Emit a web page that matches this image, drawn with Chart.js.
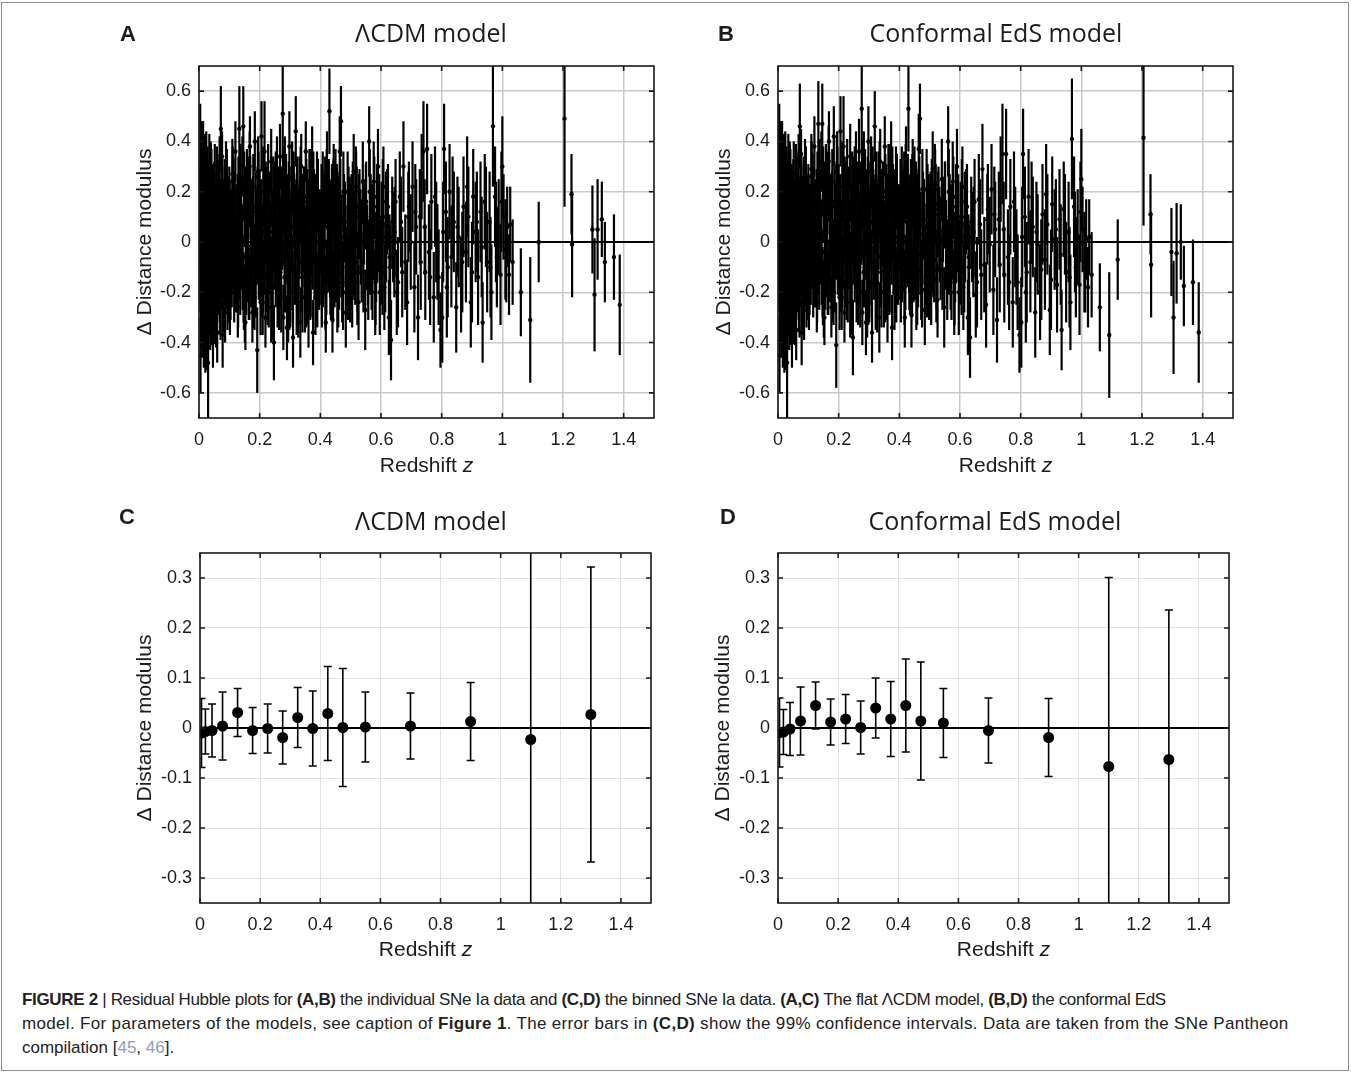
<!DOCTYPE html>
<html>
<head>
<meta charset="utf-8">
<script src="https://cdn.jsdelivr.net/npm/chart.js@4.4.1/dist/chart.umd.min.js"></script>
<style>
  body { margin: 0; background: #fff; width: 1351px; height: 1072px; position: relative; overflow: hidden; }
  #frame { position: absolute; left: 1px; top: 2px; width: 1346px; height: 1067px; border: 1px solid #8c8c8c; }
  canvas { position: absolute; }
  #caption { position: absolute; left: 22px; top: 988px; font-family: "Liberation Sans", Arial, sans-serif;
             font-size: 17px; line-height: 24px; color: #222; white-space: nowrap; }
  #caption .l1 { letter-spacing: -0.33px; }
  #caption .l2 { letter-spacing: 0.33px; }
  #caption .ref { color: #8d9fb8; }
</style>
</head>
<body>
<div id="frame"></div>
<canvas id="cA" width="680" height="500" style="left:0px;top:0px"></canvas>
<canvas id="cB" width="680" height="500" style="left:579px;top:0px"></canvas>
<canvas id="cC" width="680" height="500" style="left:0px;top:487px"></canvas>
<canvas id="cD" width="680" height="500" style="left:578px;top:487px"></canvas>
<div id="caption"><div class="l1"><b>FIGURE 2</b> | Residual Hubble plots for <b>(A,B)</b> the individual SNe Ia data and <b>(C,D)</b> the binned SNe Ia data. <b>(A,C)</b> The flat ΛCDM model, <b>(B,D)</b> the conformal EdS</div><div class="l2">model. For parameters of the models, see caption of <b>Figure 1</b>. The error bars in <b>(C,D)</b> show the 99% confidence intervals. Data are taken from the SNe Pantheon</div><div>compilation [<span class="ref">45</span>, <span class="ref">46</span>].</div></div>
<script>
// individual SNe Ia (panels A, B)
const snZ = [
  0.004,0.005,0.006,0.007,0.008,0.009,0.010,0.011,0.012,0.013,
  0.014,0.015,0.016,0.017,0.018,0.019,0.020,0.021,0.022,0.023,
  0.024,0.025,0.026,0.027,0.028,0.029,0.030,0.031,0.033,0.034,
  0.035,0.037,0.038,0.040,0.041,0.043,0.044,0.046,0.048,0.050,
  0.052,0.054,0.056,0.058,0.060,0.062,0.064,0.066,0.068,0.070,
  0.072,0.074,0.076,0.078,0.080,0.082,0.084,0.086,0.088,0.090,
  0.092,0.094,0.096,0.098,0.100,
  0.102,0.105,0.108,0.110,0.113,0.116,0.118,0.120,0.123,0.126,
  0.128,0.130,0.133,0.136,0.138,0.140,0.143,0.146,0.148,0.150,
  0.153,0.156,0.158,0.160,0.163,0.166,0.168,0.171,0.174,0.176,
  0.179,0.182,0.184,0.187,0.190,0.192,0.195,0.198,0.200,0.203,
  0.206,0.208,0.211,0.214,0.216,0.219,0.222,0.225,0.228,0.230,
  0.233,0.236,0.238,0.241,0.244,0.247,0.250,0.253,0.256,0.258,
  0.261,0.264,0.267,0.270,0.273,0.276,0.278,0.281,0.284,0.287,
  0.290,0.292,0.295,0.298,0.301,0.304,0.307,0.310,0.313,0.316,
  0.319,0.322,0.325,0.328,0.331,0.334,0.337,0.340,0.343,0.346,
  0.349,0.352,0.355,0.358,0.361,0.364,0.367,0.370,0.373,0.376,
  0.379,0.382,0.385,0.388,0.392,0.396,
  0.402,0.405,0.408,0.411,0.414,0.418,0.422,0.425,0.428,0.430,
  0.433,0.436,0.440,0.444,0.448,0.452,0.456,0.460,0.464,0.468,
  0.472,0.478,0.484,0.490,0.495,0.500,0.505,0.510,0.515,0.520,
  0.526,0.532,0.540,0.548,0.554,0.561,0.566,0.572,0.578,0.584,
  0.590,0.596,0.602,0.608,0.614,0.620,0.626,0.633,0.640,0.648,
  0.656,0.666,0.674,0.680,0.686,0.692,0.698,0.704,0.710,0.716,
  0.722,0.728,0.734,0.740,0.746,0.752,0.758,0.766,0.774,0.782,
  0.790,0.796,0.802,0.808,0.814,0.820,0.826,0.832,0.840,0.848,
  0.856,0.864,0.872,0.880,0.888,0.896,0.904,0.912,0.920,0.928,
  0.935,0.942,0.950,0.958,0.964,0.969,0.976,0.982,0.988,0.994,
  1.000,1.004,1.010,1.016,1.022,1.026,1.034,
  1.061,1.092,1.120,1.205,1.228,1.230,1.297,1.304,1.314,1.328,1.338,1.368,1.387,
  0.0035,0.0065,0.0095,0.0125,0.0155,0.0185,0.0215,0.0245,0.0275,0.0305,
  0.0325,0.0355,0.0385,0.0415,0.0445,0.0475,0.0505,0.0535,0.0565,0.0595,
  0.0625,0.0655,0.0685,0.0715,0.0745,0.0775,0.0805,0.0835,0.0865,0.0895,
  0.093,0.097,0.101,0.107,0.112,0.117,0.122,0.127,0.132,0.137,
  0.142,0.147,0.152,0.157,0.162,0.167,0.172,0.177,0.181,0.186,
  0.191,0.196,0.201,0.205,0.210,0.215,0.220,0.224,0.229,0.234,
  0.239,0.243,0.248,0.252,0.257,0.262,0.266,0.271,0.275,0.280,
  0.285,0.289,0.294,0.299,0.303,0.308,0.312,0.317,0.321,0.326,
  0.330,0.335,0.339,0.344,0.348,0.353,0.357,0.362,0.366,0.371,
  0.375,0.380,0.384,0.389,0.394,0.398,0.203,0.262,0.318,0.156,
  0.403,0.407,0.412,0.416,0.420,0.424,0.427,0.432,0.438,0.442,
  0.446,0.450,0.454,0.458,0.462,0.466,0.470,0.475,0.481,0.487,
  0.493,0.498,0.503,0.508,0.513,0.518,0.523,0.529,0.536,0.544,
  0.551,0.558,0.564,0.570,0.576,0.582,0.588,0.594,0.600,0.606,
  0.611,0.617,0.623,0.630,0.637,0.644,0.652,0.662,0.670,0.690,
  0.713,0.731,0.744,0.762,0.778,0.786,0.805,0.817,0.836,0.852,
  0.868,0.884,0.900,0.916,0.932,0.946,0.961,0.979,0.997,1.013,
  0.0045,0.0075,0.0105,0.0135,0.0165,0.0195,0.0225,0.0255,0.0285,0.032,
  0.036,0.039,0.042,0.045,0.049,0.053,0.057,0.061,0.065,0.069,
  0.073,0.077,0.081,0.085,0.089,0.095,0.099,0.104,0.109,0.114,
  0.119,0.124,0.129,0.134,0.139,0.144,0.149,0.154,0.159,0.164,
  0.169,0.173,0.178,0.183,0.188,0.193,0.197,0.202,0.207,0.212,
  0.217,0.221,0.226,0.231,0.235,0.240,0.245,0.249,0.254,0.259,
  0.263,0.268,0.272,0.277,0.282,0.286,0.291,0.296,0.300,0.305,
  0.309,0.314,0.319,0.323,0.327,0.332,0.336,0.341,0.345,0.350,
  0.354,0.359,0.363,0.368,0.372,0.377,0.381,0.386,0.390,0.394,
  0.011,0.017,0.023,0.029,0.036,0.047,0.059,0.071,0.083,0.097,
  0.111,0.125,0.139,0.151,0.165,0.179,0.194,0.209,0.223,0.238,
  0.253,0.268,0.283,0.298,0.312,0.327,0.342,0.356,0.370,0.384,
  0.404,0.409,0.413,0.417,0.421,0.426,0.431,0.435,0.439,0.443,
  0.447,0.451,0.455,0.459,0.463,0.469,0.476,0.483,0.491,0.497,
  0.502,0.507,0.512,0.517,0.522,0.528,0.534,0.542,0.550,0.557,
  0.563,0.569,0.575,0.581,0.587,0.593,0.605,0.616,0.628,0.645
];
const snErr = [
  0.33,0.15,0.25,0.20,0.18,0.22,0.20,0.16,0.10,0.20,
  0.25,0.20,0.12,0.22,0.20,0.18,0.20,0.10,0.20,0.22,
  0.12,0.18,0.20,0.15,0.20,0.18,0.24,0.20,0.15,0.15,
  0.20,0.10,0.18,0.20,0.15,0.15,0.18,0.10,0.16,0.17,
  0.13,0.17,0.12,0.16,0.12,0.15,0.15,0.16,0.12,0.15,
  0.17,0.16,0.10,0.13,0.15,0.14,0.13,0.12,0.15,0.15,
  0.13,0.14,0.14,0.15,0.14,
  0.13,0.15,0.14,0.14,0.15,0.12,0.14,0.12,0.15,0.14,
  0.12,0.14,0.17,0.14,0.15,0.14,0.12,0.16,0.13,0.14,
  0.11,0.15,0.13,0.14,0.15,0.13,0.12,0.14,0.15,0.12,
  0.13,0.15,0.12,0.14,0.15,0.17,0.14,0.14,0.15,0.13,
  0.14,0.15,0.14,0.14,0.20,0.12,0.14,0.14,0.13,0.14,
  0.15,0.14,0.13,0.13,0.15,0.15,0.14,0.14,0.12,0.15,
  0.14,0.13,0.13,0.15,0.14,0.19,0.13,0.15,0.14,0.13,
  0.13,0.15,0.15,0.14,0.14,0.15,0.14,0.12,0.14,0.15,
  0.14,0.13,0.15,0.15,0.14,0.14,0.13,0.14,0.16,0.14,
  0.14,0.12,0.15,0.15,0.14,0.13,0.15,0.16,0.14,0.13,
  0.15,0.15,0.16,0.14,0.15,0.15,
  0.15,0.14,0.14,0.16,0.15,0.12,0.14,0.15,0.15,0.17,
  0.15,0.16,0.13,0.14,0.16,0.15,0.14,0.16,0.14,0.14,
  0.16,0.17,0.14,0.16,0.17,0.17,0.16,0.15,0.17,0.16,
  0.15,0.17,0.16,0.16,0.17,0.14,0.17,0.17,0.16,0.18,
  0.15,0.17,0.18,0.16,0.18,0.17,0.15,0.16,0.18,0.17,
  0.18,0.18,0.18,0.19,0.17,0.18,0.19,0.18,0.18,0.19,
  0.17,0.19,0.17,0.20,0.19,0.18,0.19,0.19,0.18,0.20,
  0.19,0.15,0.18,0.18,0.20,0.20,0.19,0.20,0.20,0.18,
  0.20,0.19,0.20,0.20,0.20,0.18,0.19,0.20,0.19,0.20,
  0.16,0.19,0.20,0.20,0.19,0.24,0.20,0.20,0.19,0.20,
  0.20,0.17,0.20,0.16,0.16,0.15,0.17,
  0.175,0.25,0.16,0.35,0.16,0.21,0.175,0.225,0.20,0.15,0.16,0.17,0.20,
  0.20,0.22,0.18,0.24,0.20,0.18,0.16,0.22,0.20,0.18,
  0.18,0.20,0.16,0.18,0.17,0.20,0.16,0.17,0.16,0.14,
  0.16,0.15,0.14,0.16,0.14,0.15,0.14,0.15,0.14,0.15,
  0.15,0.14,0.15,0.14,0.14,0.15,0.14,0.15,0.15,0.13,
  0.15,0.14,0.14,0.15,0.15,0.14,0.14,0.15,0.14,0.14,
  0.15,0.14,0.14,0.15,0.13,0.15,0.14,0.14,0.15,0.15,
  0.14,0.14,0.15,0.16,0.14,0.15,0.14,0.14,0.15,0.14,
  0.15,0.15,0.14,0.14,0.15,0.15,0.14,0.15,0.15,0.14,
  0.15,0.14,0.15,0.15,0.16,0.14,0.15,0.15,0.15,0.14,
  0.15,0.15,0.15,0.14,0.16,0.15,0.16,0.15,0.15,0.15,
  0.15,0.15,0.16,0.14,0.15,0.16,0.15,0.16,0.15,0.14,
  0.16,0.15,0.16,0.16,0.15,0.15,0.17,0.15,0.16,0.16,
  0.16,0.16,0.17,0.17,0.16,0.16,0.16,0.17,0.16,0.17,
  0.16,0.17,0.17,0.17,0.16,0.17,0.18,0.17,0.17,0.17,
  0.17,0.18,0.17,0.17,0.18,0.18,0.17,0.18,0.18,0.18,
  0.19,0.19,0.19,0.19,0.20,0.19,0.20,0.20,0.20,0.20,
  0.20,0.20,0.20,0.20,0.20,0.20,0.20,0.20,0.20,0.18,
  0.22,0.20,0.18,0.20,0.22,0.20,0.16,0.20,0.22,0.18,
  0.18,0.17,0.18,0.17,0.16,0.17,0.16,0.15,0.16,0.15,
  0.15,0.14,0.15,0.14,0.14,0.15,0.14,0.15,0.14,0.15,
  0.14,0.15,0.14,0.14,0.15,0.15,0.14,0.15,0.14,0.15,
  0.14,0.15,0.14,0.13,0.15,0.14,0.15,0.15,0.14,0.14,
  0.15,0.14,0.15,0.14,0.15,0.14,0.14,0.15,0.15,0.14,
  0.14,0.15,0.15,0.14,0.14,0.15,0.15,0.14,0.15,0.15,
  0.14,0.15,0.15,0.14,0.14,0.15,0.15,0.14,0.15,0.15,
  0.15,0.15,0.15,0.14,0.15,0.14,0.15,0.15,0.14,0.15,
  0.20,0.22,0.18,0.20,0.18,0.17,0.16,0.15,0.15,0.14,
  0.14,0.14,0.14,0.14,0.14,0.14,0.14,0.14,0.14,0.14,
  0.14,0.14,0.14,0.15,0.14,0.14,0.15,0.15,0.15,0.15,
  0.15,0.14,0.16,0.15,0.15,0.16,0.15,0.15,0.16,0.15,
  0.16,0.16,0.15,0.16,0.16,0.16,0.16,0.16,0.17,0.16,
  0.17,0.16,0.17,0.16,0.17,0.17,0.17,0.16,0.17,0.17,
  0.17,0.17,0.17,0.17,0.17,0.18,0.17,0.18,0.17,0.18
];
const resLCDM = [
  0.22,-0.45,0.05,-0.22,0.30,-0.08,0.12,-0.30,0.38,0.02,
  -0.12,0.20,-0.38,0.08,-0.20,0.25,-0.05,-0.42,0.15,-0.15,
  0.32,-0.28,0.05,-0.36,0.18,-0.08,-0.48,0.10,-0.22,0.28,
  -0.02,-0.33,0.14,-0.12,0.22,-0.26,0.03,-0.40,0.12,-0.18,
  0.26,-0.06,-0.30,0.08,-0.36,0.18,-0.14,0.02,0.30,-0.22,
  0.45,-0.05,0.34,-0.37,0.10,-0.16,0.20,-0.28,0.04,-0.08,
  0.24,-0.21,0.12,-0.02,0.16,
  -0.24,0.06,-0.12,0.27,-0.04,-0.20,0.14,0.36,-0.10,0.02,
  -0.26,0.20,0.45,-0.15,0.08,-0.05,0.30,0.46,-0.22,0.12,
  -0.32,0.04,0.24,-0.10,0.16,-0.18,0.38,-0.02,0.10,-0.28,
  0.22,-0.08,0.40,-0.16,0.06,-0.43,0.28,-0.05,0.14,-0.24,
  0.42,0.00,-0.14,0.20,0.36,-0.30,0.08,-0.08,0.26,-0.20,
  0.12,-0.02,0.32,-0.26,0.04,-0.40,0.18,-0.12,0.24,-0.06,
  0.10,-0.22,0.34,-0.02,0.16,0.51,-0.30,0.06,-0.14,0.22,
  -0.34,0.12,-0.06,0.38,-0.20,0.02,0.26,-0.38,0.14,-0.10,
  0.44,-0.24,0.08,-0.04,0.20,-0.32,0.30,-0.14,0.04,0.16,
  -0.22,0.36,-0.06,0.10,-0.28,0.24,-0.16,0.02,0.32,-0.36,
  0.14,-0.08,0.08,-0.18,0.18,-0.12,
  0.05,-0.20,0.22,-0.06,0.12,-0.32,0.30,-0.02,0.18,0.52,
  -0.14,0.08,-0.31,0.25,-0.08,0.14,-0.22,0.02,0.36,0.48,
  -0.16,0.10,-0.28,0.20,-0.04,0.06,-0.18,0.28,-0.08,0.14,
  -0.24,0.04,0.24,-0.27,-0.02,0.40,0.10,-0.14,0.18,-0.06,
  0.30,-0.20,0.06,0.22,-0.10,0.12,-0.30,-0.39,0.02,0.16,
  -0.16,0.08,0.30,-0.08,-0.24,0.14,0.00,0.22,-0.18,0.06,
  -0.30,0.10,0.26,0.36,-0.12,0.37,-0.04,0.16,-0.22,0.04,
  -0.14,-0.35,-0.30,0.37,0.12,-0.10,0.20,-0.06,0.08,-0.26,
  0.02,-0.17,0.14,-0.04,0.10,-0.24,0.18,0.04,-0.14,0.12,
  -0.32,0.16,-0.08,0.08,-0.20,0.46,0.18,-0.06,0.06,-0.13,
  0.30,0.10,-0.03,0.06,-0.13,0.07,-0.08,
  -0.20,-0.31,0.00,0.49,0.19,-0.01,0.05,-0.21,0.05,0.09,-0.08,-0.06,-0.25,
  0.10,-0.14,0.18,-0.04,0.08,-0.26,0.20,0.00,-0.16,0.14,
  0.04,-0.10,0.24,-0.20,0.10,-0.02,0.16,-0.12,0.06,0.22,
  -0.08,0.12,-0.18,0.02,0.18,-0.06,-0.22,0.08,0.14,-0.12,
  0.02,-0.16,0.10,-0.04,0.20,0.06,-0.14,0.12,-0.08,0.26,
  0.00,-0.18,0.16,-0.06,0.08,0.30,-0.12,0.04,-0.20,0.14,
  -0.02,0.22,-0.10,0.10,-0.24,0.04,0.18,-0.14,0.06,-0.04,
  0.20,-0.18,0.10,0.00,0.28,-0.10,0.14,-0.22,0.04,0.18,
  -0.06,0.08,-0.26,0.16,0.02,-0.12,0.22,-0.04,0.10,-0.18,
  0.06,0.24,-0.08,0.12,-0.02,-0.20,0.14,0.04,-0.12,0.18,
  -0.04,0.08,-0.22,0.22,0.00,0.06,0.02,-0.10,0.08,-0.14,
  -0.10,0.14,-0.02,0.20,-0.14,0.06,0.12,-0.06,0.16,-0.18,
  0.04,0.22,-0.08,0.10,-0.12,0.18,0.02,-0.20,0.08,-0.10,
  0.14,-0.16,0.10,-0.04,0.04,0.20,-0.12,0.12,-0.08,0.08,
  0.16,-0.14,-0.04,0.06,0.24,-0.16,0.02,0.10,-0.08,0.16,
  -0.18,0.02,0.14,-0.10,0.08,-0.04,-0.20,0.18,-0.12,0.10,
  0.12,-0.08,0.06,-0.14,0.18,-0.04,0.04,-0.18,0.14,0.06,
  -0.08,0.22,-0.12,0.08,-0.02,0.10,-0.10,0.04,0.16,-0.06,
  -0.06,0.12,-0.20,0.28,-0.10,0.04,-0.32,0.16,-0.02,0.08,
  -0.18,0.22,-0.08,0.14,-0.24,0.06,-0.14,0.20,-0.04,0.10,
  -0.12,0.16,-0.20,0.02,0.26,-0.08,0.12,-0.16,0.04,0.18,
  -0.10,0.08,-0.20,0.14,0.02,-0.12,0.22,-0.06,0.10,-0.16,
  0.20,-0.02,0.12,-0.22,0.06,0.16,-0.08,0.02,-0.16,0.24,
  -0.06,0.10,-0.18,0.14,0.00,-0.12,0.20,-0.04,0.08,-0.20,
  0.16,-0.08,0.04,0.24,-0.14,0.10,-0.02,0.18,-0.10,0.06,
  -0.18,0.12,-0.06,0.20,-0.14,0.02,0.14,-0.22,0.08,-0.02,
  0.18,-0.10,0.10,-0.16,0.04,0.22,-0.08,0.12,-0.20,0.06,
  0.28,-0.24,0.14,-0.30,0.18,-0.16,0.22,-0.24,0.10,-0.18,
  0.24,-0.14,0.12,-0.26,0.20,-0.06,0.26,-0.16,0.16,-0.26,
  0.22,-0.12,0.28,-0.20,0.18,-0.24,0.12,-0.18,0.22,-0.08,
  0.16,-0.12,0.08,-0.20,0.22,-0.04,0.10,-0.16,0.04,0.18,
  -0.10,0.06,0.16,-0.18,0.12,-0.06,0.20,-0.02,-0.14,0.10,
  -0.10,0.16,-0.06,0.22,-0.16,0.10,0.00,-0.12,0.14,-0.08,
  0.20,-0.10,0.02,-0.20,0.14,0.06,-0.12,0.10,-0.06,0.04
];
const resEdS = [
  0.22,-0.45,0.05,-0.22,0.30,-0.08,0.12,-0.30,0.38,0.02,
  -0.12,0.20,-0.38,0.08,-0.20,0.25,-0.05,-0.42,0.15,-0.15,
  0.32,-0.28,0.05,-0.36,0.18,-0.08,-0.48,0.10,-0.22,0.28,
  -0.02,-0.33,0.14,-0.12,0.22,-0.26,0.03,-0.40,0.12,-0.17,
  0.27,-0.05,-0.29,0.09,-0.35,0.19,-0.13,0.03,0.31,-0.21,
  0.46,-0.04,0.35,-0.36,0.11,-0.15,0.21,-0.27,0.05,-0.07,
  0.25,-0.20,0.13,-0.01,0.17,
  -0.22,0.08,-0.11,0.29,-0.03,-0.18,0.16,0.38,-0.09,0.04,
  -0.24,0.22,0.47,-0.13,0.10,-0.03,0.32,0.47,-0.20,0.14,
  -0.30,0.06,0.26,-0.08,0.18,-0.16,0.40,0.00,0.12,-0.26,
  0.24,-0.06,0.42,-0.14,0.08,-0.41,0.30,-0.03,0.16,-0.22,
  0.44,0.02,-0.12,0.22,0.38,-0.28,0.10,-0.06,0.28,-0.18,
  0.14,0.00,0.34,-0.24,0.06,-0.38,0.20,-0.10,0.26,-0.04,
  0.12,-0.20,0.36,0.00,0.18,0.53,-0.28,0.08,-0.12,0.24,
  -0.32,0.14,-0.04,0.40,-0.18,0.04,0.28,-0.36,0.16,-0.08,
  0.46,-0.22,0.10,-0.02,0.22,-0.30,0.32,-0.12,0.06,0.18,
  -0.20,0.38,-0.04,0.12,-0.26,0.26,-0.14,0.04,0.34,-0.34,
  0.16,-0.06,0.10,-0.16,0.20,-0.10,
  0.07,-0.18,0.24,-0.04,0.14,-0.30,0.32,0.00,0.20,0.53,
  -0.12,0.10,-0.29,0.27,-0.07,0.15,-0.21,0.03,0.37,0.49,
  -0.15,0.11,-0.27,0.21,-0.03,0.07,-0.17,0.29,-0.07,0.15,
  -0.23,0.05,0.25,-0.26,-0.02,0.40,0.10,-0.14,0.18,-0.06,
  0.30,-0.20,0.06,0.22,-0.10,0.12,-0.30,-0.38,0.02,0.16,
  -0.16,0.07,0.29,-0.09,-0.25,0.13,-0.01,0.21,-0.19,0.05,
  -0.31,0.09,0.25,0.35,-0.13,0.35,-0.06,0.14,-0.24,0.02,
  -0.16,-0.37,-0.32,0.35,0.10,-0.12,0.18,-0.08,0.06,-0.28,
  -0.01,-0.20,0.11,-0.07,0.07,-0.27,0.15,0.01,-0.17,0.09,
  -0.35,0.13,-0.12,0.04,-0.24,0.41,0.14,-0.10,0.02,-0.17,
  0.25,0.05,-0.08,0.01,-0.18,0.02,-0.13,
  -0.26,-0.37,-0.07,0.415,0.11,-0.09,-0.04,-0.30,-0.045,0.00,-0.175,-0.16,-0.36,
  0.10,-0.14,0.18,-0.04,0.08,-0.26,0.20,0.00,-0.16,0.14,
  0.04,-0.10,0.24,-0.20,0.10,-0.02,0.17,-0.11,0.07,0.23,
  -0.07,0.13,-0.17,0.03,0.19,-0.05,-0.21,0.09,0.15,-0.11,
  0.03,-0.15,0.12,-0.02,0.22,0.08,-0.12,0.14,-0.06,0.28,
  0.02,-0.16,0.18,-0.04,0.10,0.32,-0.10,0.06,-0.18,0.16,
  0.00,0.24,-0.08,0.12,-0.22,0.06,0.20,-0.12,0.08,-0.02,
  0.22,-0.16,0.12,0.02,0.30,-0.08,0.16,-0.20,0.06,0.20,
  -0.04,0.10,-0.24,0.18,0.04,-0.10,0.24,-0.02,0.12,-0.16,
  0.08,0.26,-0.06,0.14,0.00,-0.18,0.16,0.06,-0.10,0.20,
  -0.02,0.10,-0.20,0.24,0.02,0.08,0.04,-0.08,0.10,-0.12,
  -0.08,0.16,0.00,0.22,-0.12,0.08,0.14,-0.04,0.18,-0.16,
  0.06,0.23,-0.07,0.11,-0.11,0.19,0.03,-0.19,0.09,-0.09,
  0.15,-0.15,0.11,-0.03,0.05,0.21,-0.11,0.13,-0.07,0.09,
  0.16,-0.14,-0.04,0.06,0.24,-0.16,0.02,0.10,-0.08,0.16,
  -0.18,0.02,0.14,-0.10,0.08,-0.04,-0.21,0.17,-0.13,0.09,
  0.11,-0.09,0.05,-0.16,0.16,-0.06,0.02,-0.20,0.12,0.04,
  -0.11,0.19,-0.15,0.05,-0.05,0.07,-0.14,0.00,0.12,-0.10,
  -0.06,0.12,-0.20,0.28,-0.10,0.04,-0.32,0.16,-0.02,0.08,
  -0.18,0.22,-0.08,0.14,-0.24,0.07,-0.13,0.21,-0.03,0.11,
  -0.11,0.17,-0.19,0.03,0.27,-0.07,0.13,-0.14,0.06,0.20,
  -0.08,0.10,-0.18,0.16,0.04,-0.10,0.24,-0.04,0.12,-0.14,
  0.22,0.00,0.14,-0.20,0.08,0.18,-0.06,0.04,-0.14,0.26,
  -0.04,0.12,-0.16,0.16,0.02,-0.10,0.22,-0.02,0.10,-0.18,
  0.18,-0.06,0.06,0.26,-0.12,0.12,0.00,0.20,-0.08,0.08,
  -0.16,0.14,-0.04,0.22,-0.12,0.04,0.16,-0.20,0.10,0.00,
  0.20,-0.08,0.12,-0.14,0.06,0.24,-0.06,0.14,-0.18,0.08,
  0.28,-0.24,0.14,-0.30,0.18,-0.16,0.23,-0.23,0.11,-0.17,
  0.26,-0.12,0.14,-0.24,0.22,-0.04,0.28,-0.14,0.18,-0.24,
  0.24,-0.10,0.30,-0.18,0.20,-0.22,0.14,-0.16,0.24,-0.06,
  0.18,-0.10,0.10,-0.18,0.24,-0.02,0.12,-0.14,0.06,0.20,
  -0.08,0.07,0.17,-0.17,0.13,-0.05,0.21,-0.01,-0.13,0.11,
  -0.09,0.17,-0.05,0.23,-0.15,0.11,0.01,-0.11,0.15,-0.08,
  0.20,-0.10,0.02,-0.20,0.14,0.06,-0.12,0.10,-0.06,0.04
];

// binned data (panels C, D), error bars = 99% CI half widths
const binZ    = [0.005, 0.018, 0.04, 0.075, 0.125, 0.175, 0.225, 0.275, 0.325, 0.375, 0.425, 0.475, 0.55, 0.7, 0.9, 1.1, 1.3];
const binLCDM = [-0.010, -0.007, -0.005, 0.004, 0.031, -0.005, -0.001, -0.019, 0.021, -0.001, 0.029, 0.001, 0.002, 0.004, 0.013, -0.023, 0.027];
const errLCDM = [0.069, 0.045, 0.053, 0.068, 0.048, 0.046, 0.049, 0.053, 0.060, 0.075, 0.094, 0.118, 0.070, 0.066, 0.078, 0.380, 0.295];
const binEdS  = [-0.009, -0.008, -0.002, 0.014, 0.045, 0.012, 0.018, 0.001, 0.040, 0.018, 0.045, 0.014, 0.010, -0.005, -0.019, -0.077, -0.063];
const errEdS  = [0.069, 0.045, 0.053, 0.068, 0.047, 0.046, 0.049, 0.053, 0.060, 0.075, 0.093, 0.118, 0.069, 0.065, 0.078, 0.378, 0.299];

const xTicks = [0, 0.2, 0.4, 0.6, 0.8, 1, 1.2, 1.4];
const yTicksSn = [-0.6, -0.4, -0.2, 0, 0.2, 0.4, 0.6];
const yTicksBin = [-0.3, -0.2, -0.1, 0, 0.1, 0.2, 0.3];

const TXT = '#1c1c1c';

// vertical error bars, drawn under the points
const errorBars = {
  id: 'errorBars',
  beforeDatasetsDraw(chart, args, o) {
    const { ctx, chartArea: a, scales: { x, y } } = chart;
    ctx.save();
    ctx.beginPath();
    ctx.rect(a.left, a.top, a.right - a.left, a.bottom - a.top);
    ctx.clip();
    ctx.strokeStyle = o.color;
    ctx.lineWidth = o.width;
    chart.data.datasets.forEach(ds => {
      if (!ds.err) return;
      ds.data.forEach((p, i) => {
        const px = x.getPixelForValue(p.x);
        const hi = y.getPixelForValue(p.y + ds.err[i]);
        const lo = y.getPixelForValue(p.y - ds.err[i]);
        ctx.beginPath();
        ctx.moveTo(px, hi); ctx.lineTo(px, lo);
        if (o.cap) {
          ctx.moveTo(px - o.cap, hi); ctx.lineTo(px + o.cap, hi);
          ctx.moveTo(px - o.cap, lo); ctx.lineTo(px + o.cap, lo);
        }
        ctx.stroke();
      });
    });
    ctx.restore();
  }
};

// axes box, inward ticks, panel letter, title and x label (italic z)
const panelBox = {
  id: 'panelBox',
  afterDatasetsDraw(chart, args, o) {
    const { ctx, chartArea: a, scales: { x, y } } = chart;
    ctx.save();
    ctx.strokeStyle = '#1a1a1a';
    ctx.lineWidth = o.boxWidth;
    ctx.strokeRect(a.left, a.top, a.right - a.left, a.bottom - a.top);
    ctx.beginPath();
    x.ticks.forEach(t => {
      const px = x.getPixelForValue(t.value);
      ctx.moveTo(px, a.bottom); ctx.lineTo(px, a.bottom - 5);
      ctx.moveTo(px, a.top); ctx.lineTo(px, a.top + 5);
    });
    y.ticks.forEach(t => {
      const py = y.getPixelForValue(t.value);
      ctx.moveTo(a.left, py); ctx.lineTo(a.left + 5, py);
      ctx.moveTo(a.right, py); ctx.lineTo(a.right - 5, py);
    });
    ctx.stroke();

    ctx.fillStyle = TXT;
    ctx.textAlign = 'center';
    ctx.textBaseline = 'middle';
    ctx.font = 'bold 22px "Liberation Sans", Arial, sans-serif';
    ctx.fillText(o.letter, o.letterX, o.letterY);
    ctx.font = '25px "Open Sans", sans-serif';
    ctx.fillText(o.title, o.titleX, o.titleY);

    const f1 = '21px "Liberation Sans", Arial, sans-serif';
    const f2 = 'italic 21px "Liberation Sans", Arial, sans-serif';
    ctx.font = f1; const w1 = ctx.measureText('Redshift ').width;
    ctx.font = f2; const w2 = ctx.measureText('z').width;
    const x0 = (a.left + a.right) / 2 - (w1 + w2) / 2;
    ctx.textAlign = 'left';
    ctx.font = f1; ctx.fillText('Redshift ', x0, o.xTitleY);
    ctx.font = f2; ctx.fillText('z', x0 + w1, o.xTitleY);
    ctx.restore();
  }
};

function fmt(v) { return String(Math.round(v * 10) / 10); }

function makePanel(id, p) {
  const pts = p.z.map((z, i) => ({ x: z, y: p.res[i] }));
  new Chart(document.getElementById(id), {
    type: 'scatter',
    data: {
      datasets: [
        { type: 'line', data: [{ x: 0, y: 0 }, { x: 1.5, y: 0 }], borderColor: '#000', borderWidth: 2,
          pointRadius: 0, tension: 0 },
        { data: pts, err: p.err, pointRadius: p.dot, pointHoverRadius: p.dot,
          backgroundColor: '#000', borderWidth: 0 }
      ]
    },
    options: {
      responsive: false,
      animation: false,
      events: [],
      layout: { padding: { left: 0, top: 66, right: p.padRight, bottom: 0 } },
      scales: {
        x: {
          type: 'linear', min: 0, max: 1.5,
          afterBuildTicks: s => { s.ticks = xTicks.map(v => ({ value: v })); },
          afterFit: s => { s.height = p.xH; },
          grid: { color: p.gridColor, lineWidth: p.gridWidth, drawTicks: false },
          border: { display: false },
          ticks: { color: TXT, padding: 11, font: { family: '"Liberation Sans", Arial, sans-serif', size: 18 },
                   callback: v => fmt(v) }
        },
        y: {
          type: 'linear', min: -p.ymax, max: p.ymax,
          afterBuildTicks: s => { s.ticks = p.yTicks.map(v => ({ value: v })); },
          afterFit: s => { s.width = p.yW; },
          grid: { color: p.gridColor, lineWidth: p.gridWidth, drawTicks: false },
          border: { display: false },
          ticks: { color: TXT, padding: 8, font: { family: '"Liberation Sans", Arial, sans-serif', size: 18 },
                   callback: v => fmt(v) },
          title: { display: true, text: 'Δ Distance modulus', color: TXT, padding: { top: 133, bottom: 0 },
                   font: { family: '"Liberation Sans", Arial, sans-serif', size: 21 } }
        }
      },
      plugins: {
        legend: { display: false },
        tooltip: { enabled: false },
        errorBars: { color: '#000', width: p.barWidth, cap: p.cap },
        panelBox: { boxWidth: 1.6, letter: p.letter, letterX: p.letterX, letterY: p.letterY,
                    title: p.title, titleX: p.titleX, titleY: p.titleY, xTitleY: p.xTitleY }
      }
    },
    plugins: [errorBars, panelBox]
  });
}

const snStyle = { ymax: 0.7, yTicks: yTicksSn, err: snErr, z: snZ, dot: 2.2, barWidth: 2.2, cap: 0,
                  gridColor: '#c9c9c9', gridWidth: 1.5, padRight: 26, yW: 199, xH: 82, titleY: 35, letterY: 35, xTitleY: 466 };
const binStyle = { ymax: 0.35, yTicks: yTicksBin, z: binZ, dot: 5.5, barWidth: 1.6, cap: 4,
                   gridColor: '#e2e2e2', gridWidth: 1, padRight: 29, yW: 200, xH: 84, titleY: 36, letterY: 31, xTitleY: 463 };

makePanel('cA', { ...snStyle, res: resLCDM, letter: 'A', letterX: 128, title: 'ΛCDM model', titleX: 431 });
makePanel('cB', { ...snStyle, res: resEdS, letter: 'B', letterX: 147, title: 'Conformal EdS model', titleX: 417 });
makePanel('cC', { ...binStyle, res: binLCDM, err: errLCDM, letter: 'C', letterX: 127, title: 'ΛCDM model', titleX: 431 });
makePanel('cD', { ...binStyle, res: binEdS, err: errEdS, letter: 'D', letterX: 150, title: 'Conformal EdS model', titleX: 417 });
</script>
</body>
</html>
